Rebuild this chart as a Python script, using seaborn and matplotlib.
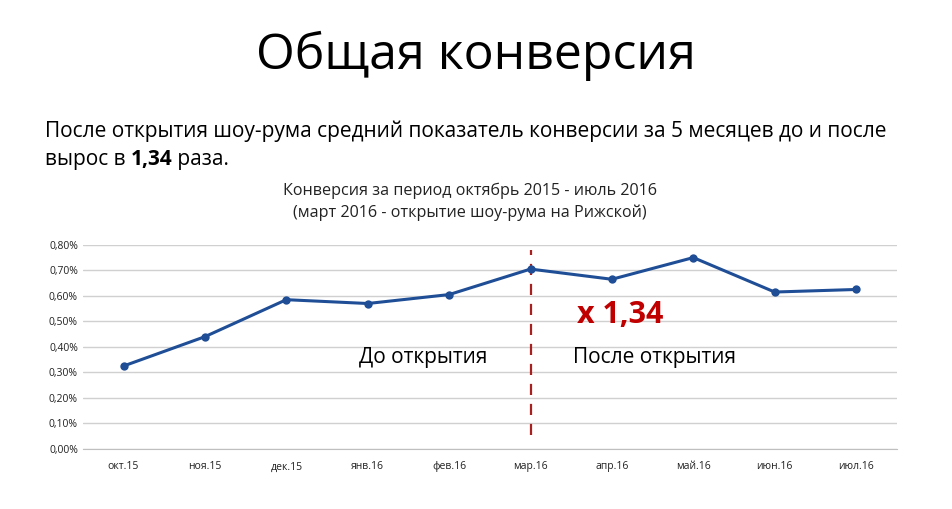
import pandas as pd
import numpy as np
import seaborn as sns
import matplotlib.pyplot as plt
from matplotlib.ticker import FuncFormatter


# =====================
# data
# =====================
months = ['окт.15', 'ноя.15', 'дек.15', 'янв.16', 'фев.16',
          'мар.16', 'апр.16', 'май.16', 'июн.16', 'июл.16']
conversion = [0.325, 0.44, 0.585, 0.57, 0.605,
              0.705, 0.665, 0.75, 0.615, 0.625]  # percent
y_ticks = [0.0, 0.1, 0.2, 0.3, 0.4, 0.5, 0.6, 0.7, 0.8]
opening_month = 'мар.16'

# =====================
# figure
# =====================
sns.set_style('white')
plt.rcParams['font.family'] = ['Open Sans', 'DejaVu Sans']

df = pd.DataFrame({'month': months, 'conversion': conversion})

fig = plt.figure(figsize=(9.52, 5.09), dpi=100)
ax = fig.add_axes([0.087, 0.118, 0.855, 0.401])

sns.lineplot(x='month', y='conversion', data=df, ax=ax, sort=False,
             color='#1f4e96', linewidth=2.2, marker='o', markersize=6,
             markeredgewidth=0)

ax.set_xlim(-0.5, len(months) - 0.5)
ax.set_ylim(0, 0.8)
ax.set_yticks(y_ticks)
ax.yaxis.set_major_formatter(FuncFormatter(lambda v, p: f'{v:.2f}%'.replace('.', ',')))
ax.grid(axis='y', color='#d0d0d0', linewidth=1)
ax.set_axisbelow(True)
for side in ['top', 'right', 'left']:
    ax.spines[side].set_visible(False)
ax.spines['bottom'].set_color('#bfbfbf')
ax.tick_params(axis='both', length=0, labelsize=7.5, colors='#222222')
ax.tick_params(axis='x', pad=9)
ax.set_xlabel('')
ax.set_ylabel('')

# opening marker and annotations
x_open = months.index(opening_month)
ax.axvline(x_open, ymin=0.07, ymax=0.975, color='#a82020', linestyle=(0, (5, 4)),
           linewidth=1.6, zorder=1)
ax.text(6.1, 0.525, 'x 1,34', color='#c00000', fontsize=22, fontweight='bold',
        ha='center', va='center')
ax.text(3.68, 0.357, 'До открытия', fontsize=15, ha='center', va='center', color='black')
ax.text(6.52, 0.357, 'После открытия', fontsize=15, ha='center', va='center', color='black')

# titles
fig.text(0.5, 0.89, 'Общая конверсия', fontsize=36, ha='center', va='center', color='black')
fig.text(0.047, 0.742, 'После открытия шоу-рума средний показатель конверсии за 5 месяцев до и после',
         fontsize=15, ha='left', va='center', color='black')

# second line: plain / bold / plain pieces placed one after another
renderer = fig.canvas.get_renderer()
x_pos = 0.047
for piece, weight in [('вырос в ', 'normal'), ('1,34', 'bold'), (' раза.', 'normal')]:
    t = fig.text(x_pos, 0.686, piece, fontsize=15, fontweight=weight,
                 ha='left', va='center', color='black')
    bb = t.get_window_extent(renderer=renderer)
    x_pos += bb.width / fig.bbox.width

fig.text(0.494, 0.604, 'Конверсия за период октябрь 2015 - июль 2016\n(март 2016 - открытие шоу-рума на Рижской)',
         fontsize=11.6, ha='center', va='center', linespacing=1.45, color='#222222')

plt.savefig('out.png', dpi=100)
plt.close()
